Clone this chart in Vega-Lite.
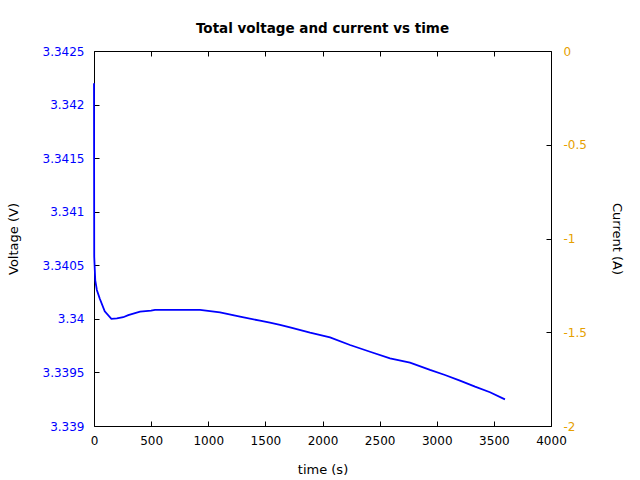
{
  "$schema": "https://vega.github.io/schema/vega-lite/v6.json",
  "width": 457,
  "height": 375,
  "autosize": {"type": "none"},
  "padding": {"left": 94, "top": 51, "right": 89, "bottom": 54},
  "background": "white",
  "title": {"text": "Total voltage and current vs time", "font": "DejaVu Sans", "fontSize": 13.5, "fontWeight": "bold", "color": "black", "offset": 10},
  "config": {
    "view": {"stroke": "black", "strokeWidth": 1},
    "axis": {"labelFont": "DejaVu Sans", "titleFont": "DejaVu Sans", "labelFontSize": 12, "titleFontSize": 13, "titleFontWeight": "normal", "grid": false, "domain": false, "tickColor": "black", "titleColor": "black", "tickWidth": 1, "ticks": true, "tickSize": 5, "offset": -5}
  },
  "data": {"values": [
    {"t": 0, "voltage": 3.3422},
    {"t": 2, "voltage": 3.34058},
    {"t": 11, "voltage": 3.34036},
    {"t": 25, "voltage": 3.34027},
    {"t": 50, "voltage": 3.34019},
    {"t": 94, "voltage": 3.34007},
    {"t": 152, "voltage": 3.34000},
    {"t": 200, "voltage": 3.340005},
    {"t": 256, "voltage": 3.340015},
    {"t": 300, "voltage": 3.340035},
    {"t": 403, "voltage": 3.340067},
    {"t": 500, "voltage": 3.340076},
    {"t": 534, "voltage": 3.340083},
    {"t": 928, "voltage": 3.340083},
    {"t": 1103, "voltage": 3.340061},
    {"t": 1278, "voltage": 3.34002},
    {"t": 1453, "voltage": 3.339983},
    {"t": 1540, "voltage": 3.339964},
    {"t": 1628, "voltage": 3.339943},
    {"t": 1716, "voltage": 3.339921},
    {"t": 1891, "voltage": 3.339871},
    {"t": 2066, "voltage": 3.339828},
    {"t": 2241, "voltage": 3.339756},
    {"t": 2416, "voltage": 3.339693},
    {"t": 2591, "voltage": 3.339632},
    {"t": 2766, "voltage": 3.339591},
    {"t": 2941, "voltage": 3.339523},
    {"t": 3072, "voltage": 3.339476},
    {"t": 3203, "voltage": 3.339423},
    {"t": 3335, "voltage": 3.339367},
    {"t": 3466, "voltage": 3.339315},
    {"t": 3597, "voltage": 3.339249}
  ]},
  "layer": [
    {
      "mark": {"type": "line", "color": "#0000ff", "strokeWidth": 1.8},
      "encoding": {
        "x": {"field": "t", "type": "quantitative", "scale": {"domain": [0, 4000], "nice": false, "zero": false},
              "axis": {"orient": "bottom", "title": "time (s)", "values": [0, 500, 1000, 1500, 2000, 2500, 3000, 3500, 4000], "labelExpr": "datum.value + ''", "labelPadding": 9, "labelColor": "black", "titlePadding": 17, "labelFlush": false}},
        "y": {"field": "voltage", "type": "quantitative", "scale": {"domain": [3.339, 3.3425], "nice": false, "zero": false},
              "axis": {"orient": "left", "title": "Voltage (V)", "values": [3.339, 3.3395, 3.34, 3.3405, 3.341, 3.3415, 3.342, 3.3425], "labelExpr": "datum.value + ''", "labelPadding": 10, "labelColor": "#0000ff", "titlePadding": 22}}
      }
    },
    {
      "mark": {"type": "line", "color": "#e69f00", "strokeWidth": 1.5},
      "encoding": {
        "x": {"field": "t", "type": "quantitative", "scale": {"domain": [0, 4000], "nice": false, "zero": false},
              "axis": {"orient": "top", "title": null, "labels": false, "values": [0, 500, 1000, 1500, 2000, 2500, 3000, 3500, 4000]}},
        "y": {"field": "current", "type": "quantitative", "scale": {"domain": [-2, 0], "nice": false, "zero": false},
              "axis": {"orient": "right", "title": "Current (A)", "values": [-2, -1.5, -1, -0.5, 0], "labelExpr": "datum.value + ''", "labelPadding": 12, "labelColor": "#e69f00", "titlePadding": 23}}
      }
    }
  ],
  "resolve": {"scale": {"y": "independent"}, "axis": {"x": "independent", "y": "independent"}}
}
